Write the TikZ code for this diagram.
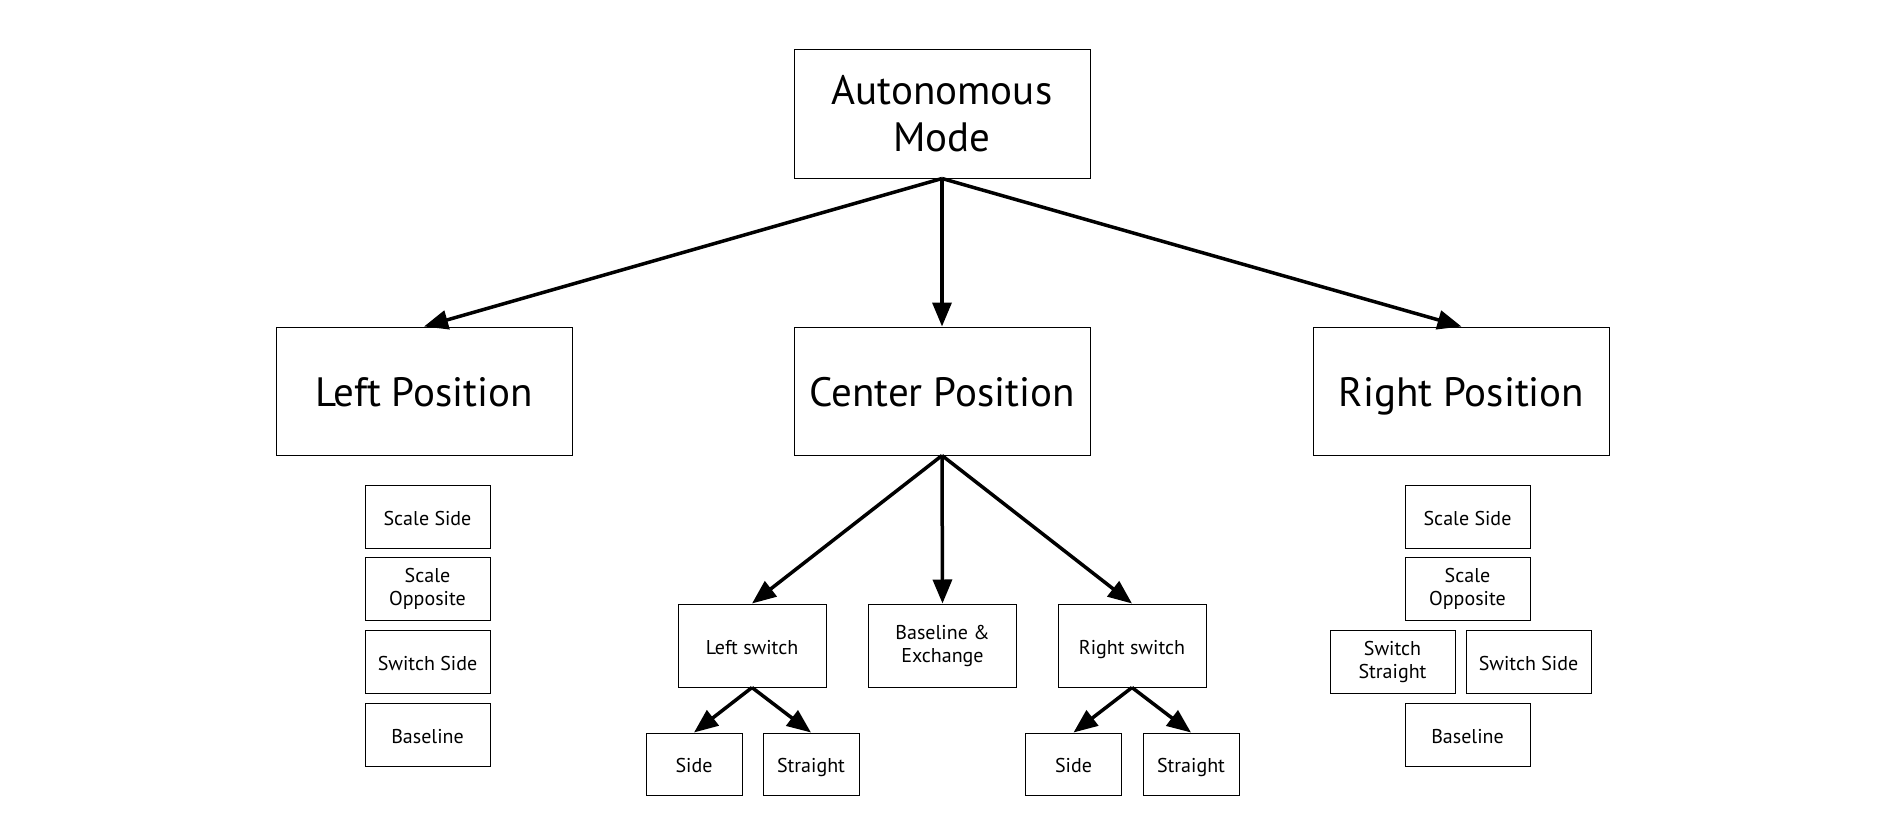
\documentclass[tikz,border=0pt]{standalone}
\usepackage{fontspec}
\setmainfont{PT Sans}
\usepackage{tikz}
\usetikzlibrary{arrows.meta}

\begin{document}
\begin{tikzpicture}[
  x=1pt, y=-1pt,
  box/.style={draw, line width=1pt, align=center, inner sep=0pt},
  mainbox/.style={box, minimum width=296pt, minimum height=128pt,
    font=\fontsize{41}{47}\selectfont},
  subbox/.style={box, minimum width=148pt, minimum height=83pt,
    font=\fontsize{20}{23}\selectfont},
  leafbox/.style={box, minimum width=96pt, minimum height=62pt,
    font=\fontsize{20}{23}\selectfont},
  listbox/.style={box, minimum width=125pt, minimum height=63pt,
    font=\fontsize{20}{23}\selectfont},
  bigline/.style={text height=36pt, text depth=6pt},
  smallline/.style={text height=18pt, text depth=1pt},
  link/.style={line width=3.5pt, -{Triangle[length=24pt, width=19pt]}}
]
  \useasboundingbox (0,0) rectangle (1895,816);

  % top level
  \node[mainbox] (auto) at (942,114) {Autonomous\\Mode};
  \node[mainbox, bigline] (left) at (424,391) {Left Position};
  \node[mainbox, bigline] (center) at (942,391) {Center Position};
  \node[mainbox, bigline] (right) at (1461.5,391) {Right Position};

  \draw[link] (auto.south) -- (left.north);
  \draw[link] (auto.south) -- (center.north);
  \draw[link] (auto.south) -- (right.north);

  % left position list
  \node[listbox, smallline] (l1) at (427.5,516.5) {Scale Side};
  \node[listbox] (l2) at (427.5,589) {Scale\\Opposite};
  \node[listbox, smallline] (l3) at (427.5,661.5) {Switch Side};
  \node[listbox, smallline] (l4) at (427.5,734.5) {Baseline};

  % center position tree
  \node[subbox, smallline] (lsw) at (752,645.5) {Left switch};
  \node[subbox] (base) at (942.5,645.5) {Baseline \&\\Exchange};
  \node[subbox, smallline] (rsw) at (1132,645.5) {Right switch};

  \draw[link] (center.south) -- (lsw.north);
  \draw[link] (center.south) -- (base.north);
  \draw[link] (center.south) -- (rsw.north);

  \node[leafbox, smallline] (lside) at (694,764) {Side};
  \node[leafbox, smallline] (lstr) at (811,764) {Straight};
  \node[leafbox, smallline] (rside) at (1073.5,764) {Side};
  \node[leafbox, smallline] (rstr) at (1191,764) {Straight};

  \draw[link] (lsw.south) -- (lside.north);
  \draw[link] (lsw.south) -- (lstr.north);
  \draw[link] (rsw.south) -- (rside.north);
  \draw[link] (rsw.south) -- (rstr.north);

  % right position list
  \node[listbox, smallline] (r1) at (1467.5,516.5) {Scale Side};
  \node[listbox] (r2) at (1467.5,589) {Scale\\Opposite};
  \node[listbox] (r3) at (1392.5,661.5) {Switch\\Straight};
  \node[listbox, smallline] (r4) at (1528.5,661.5) {Switch Side};
  \node[listbox, smallline] (r5) at (1467.5,734.5) {Baseline};
\end{tikzpicture}
\end{document}
